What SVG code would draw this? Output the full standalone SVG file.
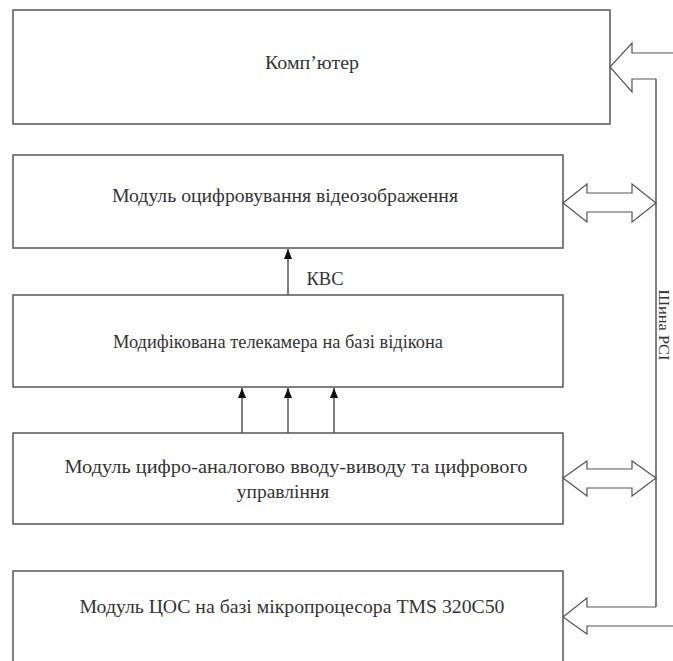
<svg xmlns="http://www.w3.org/2000/svg" width="673" height="661" viewBox="0 0 673 661">
<style>
.box{fill:#fff;stroke:#555;stroke-width:1.5}
.t{font-family:"Liberation Serif","Times New Roman",serif;font-size:19.5px;fill:#333;text-anchor:middle}
.ln{stroke:#555;stroke-width:1.5;fill:none}
.ba{fill:#fff;stroke:#555;stroke-width:1.2;stroke-linejoin:miter}
</style>
<defs>
<marker id="ah" markerWidth="11" markerHeight="9" refX="10" refY="4.5" orient="auto" markerUnits="userSpaceOnUse" viewBox="0 0 11 9">
<path d="M0,0.5 L10,4.5 L0,8.5 Z" fill="#111"/>
</marker>
</defs>
<g id="n1"><rect class="box" x="13" y="10" width="597" height="114"/><text class="t" x="312" y="69" textLength="94" lengthAdjust="spacingAndGlyphs">Комп’ютер</text></g>
<g id="n2"><rect class="box" x="13" y="155" width="550" height="93"/><text class="t" x="285" y="202" textLength="346" lengthAdjust="spacingAndGlyphs">Модуль оцифровування відеозображення</text></g>
<g id="n3"><rect class="box" x="13" y="295" width="550" height="92"/><text class="t" x="278" y="348" textLength="330" lengthAdjust="spacingAndGlyphs">Модифікована телекамера на базі відікона</text></g>
<g id="n4"><rect class="box" x="13" y="433" width="550" height="91"/><text class="t" x="296" y="473" textLength="463" lengthAdjust="spacingAndGlyphs">Модуль цифро-аналогово вводу-виводу та цифрового</text><text class="t" x="283" y="498">управління</text></g>
<g id="n5"><rect class="box" x="13" y="571" width="550" height="100"/><text class="t" x="292" y="613" textLength="425" lengthAdjust="spacingAndGlyphs">Модуль ЦОС на базі мікропроцесора TMS 320C50</text></g>
<g id="connectors">
<line class="ln" x1="288" y1="295" x2="288" y2="249" marker-end="url(#ah)"/>
<text class="t" x="325" y="285" textLength="37" lengthAdjust="spacingAndGlyphs">КВС</text>
<line class="ln" x1="242" y1="433" x2="242" y2="388" marker-end="url(#ah)"/>
<line class="ln" x1="288" y1="433" x2="288" y2="388" marker-end="url(#ah)"/>
<line class="ln" x1="334" y1="433" x2="334" y2="388" marker-end="url(#ah)"/>
<path class="ba" d="M674,53 L632,53 L632,43 L610,67 L632,92 L632,79 L656,79"/>
<line class="ln" x1="656" y1="79" x2="656" y2="607"/>
<path class="ba" d="M563,203 L587,184 L587,193 L632,193 L632,184 L656,203 L632,222 L632,212 L587,212 L587,222 Z"/>
<path class="ba" d="M563,478 L587,461 L587,469 L632,469 L632,461 L656,478 L632,496 L632,488 L587,488 L587,496 Z"/>
<path class="ba" d="M656,607 L587,607 L587,598 L563,617 L587,634 L587,626 L674,626"/>
<text class="t" style="font-size:15px" transform="translate(659,325) rotate(90)" textLength="71" lengthAdjust="spacingAndGlyphs">Шина PCI</text>
</g>
</svg>
